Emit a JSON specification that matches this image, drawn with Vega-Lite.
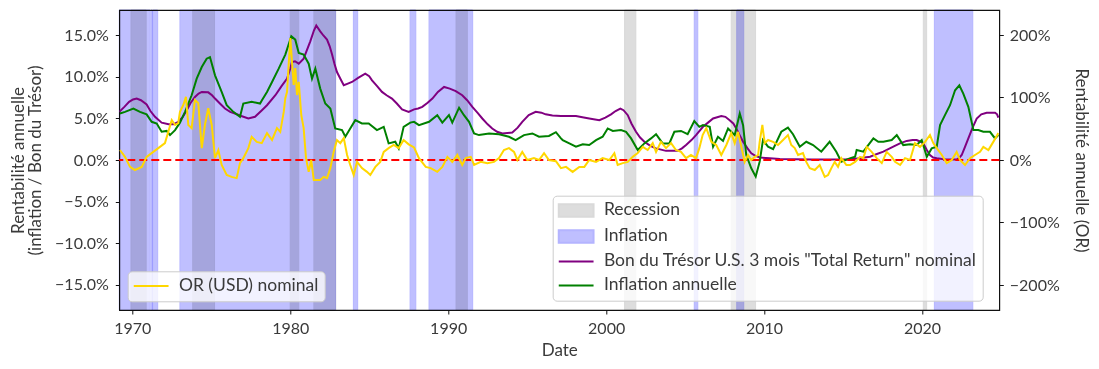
{
  "$schema": "https://vega.github.io/schema/vega-lite/v6.json",
  "width": 880,
  "height": 300,
  "autosize": {"type": "none"},
  "padding": {"left": 119.3, "top": 10, "right": 99.7, "bottom": 59},
  "background": "white",
  "config": {
    "view": {"stroke": "#111111", "strokeWidth": 1.2},
    "axis": {
      "labelFont": "Lato", "labelFontSize": 16, "labelColor": "#3a3a3a",
      "titleFont": "Lato", "titleFontSize": 17, "titleColor": "#3a3a3a", "titleFontWeight": "normal",
      "tickColor": "#111111", "tickSize": 4, "tickWidth": 1, "domain": false, "grid": false, "labelPadding": 6
    },
    "legend": {
      "labelFont": "Lato", "labelFontSize": 17.5, "labelColor": "#3a3a3a", "labelLimit": 700,
      "padding": 6, "cornerRadius": 4, "fillColor": "rgba(255,255,255,0.8)", "strokeColor": "#cccccc",
      "rowPadding": 5, "symbolOpacity": 1
    }
  },
  "datasets": {
    "recessions": [
      {"debut": 1969.92, "fin": 1970.88}, {"debut": 1973.83, "fin": 1975.21}, {"debut": 1980.0, "fin": 1980.54},
      {"debut": 1981.5, "fin": 1982.88}, {"debut": 1990.5, "fin": 1991.21}, {"debut": 2001.17, "fin": 2001.88},
      {"debut": 2007.92, "fin": 2009.46}, {"debut": 2020.08, "fin": 2020.29}
    ],
    "inflations": [
      {"debut": 1969.18, "fin": 1971.12}, {"debut": 1971.19, "fin": 1971.26}, {"debut": 1971.3, "fin": 1971.61},
      {"debut": 1973.02, "fin": 1982.87}, {"debut": 1984.0, "fin": 1984.27}, {"debut": 1987.59, "fin": 1987.95},
      {"debut": 1988.79, "fin": 1991.55}, {"debut": 2005.58, "fin": 2005.8}, {"debut": 2008.27, "fin": 2008.71},
      {"debut": 2020.78, "fin": 2023.21}
    ],
    "tbill": [
      {"annee":1969.18,"v":5.8},{"annee":1969.5,"v":6.4},{"annee":1969.8,"v":7.0},{"annee":1970.05,"v":7.3},{"annee":1970.28,"v":7.4},
      {"annee":1970.55,"v":7.2},{"annee":1970.91,"v":6.7},{"annee":1971.15,"v":5.9},{"annee":1971.44,"v":5.2},{"annee":1971.86,"v":4.5},
      {"annee":1972.3,"v":4.3},{"annee":1972.6,"v":4.3},{"annee":1972.91,"v":4.6},{"annee":1973.2,"v":5.2},{"annee":1973.45,"v":6.0},
      {"annee":1973.7,"v":6.9},{"annee":1973.97,"v":7.6},{"annee":1974.2,"v":8.0},{"annee":1974.4,"v":8.2},{"annee":1974.81,"v":8.15},
      {"annee":1975.05,"v":7.8},{"annee":1975.24,"v":7.4},{"annee":1975.55,"v":6.8},{"annee":1975.87,"v":6.2},{"annee":1976.2,"v":5.8},
      {"annee":1976.5,"v":5.6},{"annee":1976.9,"v":5.3},{"annee":1977.35,"v":5.0},{"annee":1977.77,"v":5.2},{"annee":1978.21,"v":6.0},
      {"annee":1978.53,"v":6.6},{"annee":1979.06,"v":7.8},{"annee":1979.45,"v":8.9},{"annee":1979.8,"v":9.8},{"annee":1980.0,"v":11.0},
      {"annee":1980.11,"v":11.8},{"annee":1980.3,"v":11.9},{"annee":1980.54,"v":11.6},{"annee":1980.85,"v":12.2},{"annee":1981.05,"v":13.2},
      {"annee":1981.27,"v":14.3},{"annee":1981.5,"v":15.6},{"annee":1981.65,"v":16.2},{"annee":1981.9,"v":15.5},{"annee":1982.1,"v":15.0},
      {"annee":1982.33,"v":14.5},{"annee":1982.5,"v":13.7},{"annee":1982.65,"v":12.7},{"annee":1982.8,"v":11.6},{"annee":1982.96,"v":10.6},
      {"annee":1983.2,"v":9.7},{"annee":1983.39,"v":9.0},{"annee":1983.65,"v":9.2},{"annee":1983.91,"v":9.4},{"annee":1984.3,"v":9.9},
      {"annee":1984.75,"v":10.4},{"annee":1985.0,"v":10.1},{"annee":1985.18,"v":9.6},{"annee":1985.5,"v":8.9},{"annee":1985.81,"v":8.2},
      {"annee":1986.1,"v":7.8},{"annee":1986.44,"v":7.4},{"annee":1986.75,"v":6.8},{"annee":1987.08,"v":6.1},{"annee":1987.5,"v":5.8},
      {"annee":1987.84,"v":6.1},{"annee":1988.1,"v":6.2},{"annee":1988.36,"v":6.4},{"annee":1988.7,"v":6.9},{"annee":1989.0,"v":7.4},
      {"annee":1989.35,"v":8.2},{"annee":1989.74,"v":8.8},{"annee":1990.1,"v":8.6},{"annee":1990.48,"v":8.3},{"annee":1990.89,"v":7.8},
      {"annee":1991.2,"v":7.2},{"annee":1991.53,"v":6.4},{"annee":1991.85,"v":5.7},{"annee":1992.16,"v":5.0},{"annee":1992.5,"v":4.3},
      {"annee":1992.79,"v":3.8},{"annee":1993.1,"v":3.4},{"annee":1993.43,"v":3.2},{"annee":1994.06,"v":3.3},{"annee":1994.4,"v":3.9},
      {"annee":1994.69,"v":4.6},{"annee":1995.1,"v":5.4},{"annee":1995.54,"v":5.8},{"annee":1995.9,"v":5.7},{"annee":1996.17,"v":5.5},
      {"annee":1996.6,"v":5.35},{"annee":1997.14,"v":5.3},{"annee":1998.09,"v":5.3},{"annee":1998.5,"v":5.15},{"annee":1998.93,"v":5.0},
      {"annee":1999.57,"v":4.8},{"annee":1999.95,"v":5.1},{"annee":2000.31,"v":5.5},{"annee":2000.6,"v":5.9},{"annee":2000.9,"v":6.2},
      {"annee":2001.1,"v":6.0},{"annee":2001.37,"v":5.4},{"annee":2001.6,"v":4.4},{"annee":2001.89,"v":3.4},{"annee":2002.15,"v":2.7},
      {"annee":2002.42,"v":2.2},{"annee":2002.8,"v":1.7},{"annee":2003.16,"v":1.4},{"annee":2003.79,"v":1.1},{"annee":2004.53,"v":1.1},
      {"annee":2004.8,"v":1.4},{"annee":2005.06,"v":1.8},{"annee":2005.4,"v":2.4},{"annee":2005.69,"v":3.0},{"annee":2006.13,"v":4.0},
      {"annee":2006.45,"v":4.5},{"annee":2006.77,"v":5.0},{"annee":2007.29,"v":5.3},{"annee":2007.55,"v":5.2},{"annee":2007.82,"v":4.8},
      {"annee":2008.05,"v":4.4},{"annee":2008.24,"v":3.8},{"annee":2008.45,"v":3.0},{"annee":2008.67,"v":2.2},{"annee":2008.95,"v":1.4},
      {"annee":2009.19,"v":0.8},{"annee":2009.45,"v":0.5},{"annee":2009.72,"v":0.3},{"annee":2010.36,"v":0.2},{"annee":2011.0,"v":0.12},
      {"annee":2012.0,"v":0.08},{"annee":2013.0,"v":0.06},{"annee":2014.0,"v":0.05},{"annee":2015.0,"v":0.05},{"annee":2015.5,"v":0.1},
      {"annee":2016.0,"v":0.2},{"annee":2016.71,"v":0.4},{"annee":2017.1,"v":0.7},{"annee":2017.55,"v":1.0},{"annee":2018.18,"v":1.6},
      {"annee":2018.6,"v":2.0},{"annee":2019.03,"v":2.3},{"annee":2019.4,"v":2.4},{"annee":2019.66,"v":2.4},{"annee":2019.9,"v":2.2},
      {"annee":2020.08,"v":2.0},{"annee":2020.3,"v":1.2},{"annee":2020.5,"v":0.6},{"annee":2020.7,"v":0.3},{"annee":2020.93,"v":0.2},
      {"annee":2021.5,"v":0.05},{"annee":2022.19,"v":0.05},{"annee":2022.35,"v":0.25},{"annee":2022.51,"v":0.6},{"annee":2022.7,"v":1.5},
      {"annee":2022.93,"v":2.6},{"annee":2023.2,"v":3.9},{"annee":2023.46,"v":5.0},{"annee":2023.75,"v":5.5},{"annee":2024.09,"v":5.7},
      {"annee":2024.62,"v":5.7},{"annee":2024.75,"v":5.5},{"annee":2024.83,"v":5.1}
    ],
    "inflation": [
      {"annee":1969.22,"v":5.6},{"annee":1969.54,"v":5.8},{"annee":1970.07,"v":6.2},{"annee":1970.49,"v":5.8},{"annee":1970.91,"v":5.5},
      {"annee":1971.23,"v":4.6},{"annee":1971.55,"v":4.4},{"annee":1971.86,"v":3.4},{"annee":1972.18,"v":3.5},{"annee":1972.39,"v":3.0},
      {"annee":1972.71,"v":3.6},{"annee":1973.02,"v":4.5},{"annee":1973.34,"v":5.8},{"annee":1973.76,"v":7.8},{"annee":1974.08,"v":9.8},
      {"annee":1974.4,"v":11.2},{"annee":1974.71,"v":12.2},{"annee":1974.92,"v":12.4},{"annee":1975.24,"v":10.2},{"annee":1975.66,"v":8.2},
      {"annee":1975.98,"v":6.6},{"annee":1976.4,"v":5.8},{"annee":1976.82,"v":5.2},{"annee":1977.03,"v":6.8},{"annee":1977.56,"v":7.0},
      {"annee":1978.09,"v":6.8},{"annee":1978.21,"v":7.2},{"annee":1978.53,"v":8.2},{"annee":1978.85,"v":9.4},{"annee":1979.27,"v":11.0},
      {"annee":1979.69,"v":12.7},{"annee":1980.07,"v":14.9},{"annee":1980.32,"v":14.5},{"annee":1980.54,"v":12.9},{"annee":1980.85,"v":12.7},
      {"annee":1981.17,"v":11.6},{"annee":1981.38,"v":9.8},{"annee":1981.59,"v":11.0},{"annee":1981.9,"v":8.6},{"annee":1982.22,"v":6.8},
      {"annee":1982.54,"v":6.2},{"annee":1982.85,"v":3.8},{"annee":1983.28,"v":3.6},{"annee":1983.49,"v":2.8},{"annee":1983.8,"v":3.8},
      {"annee":1984.12,"v":4.8},{"annee":1984.54,"v":4.4},{"annee":1984.97,"v":4.4},{"annee":1985.49,"v":3.6},{"annee":1985.92,"v":4.0},
      {"annee":1986.23,"v":2.0},{"annee":1986.65,"v":2.2},{"annee":1986.87,"v":1.4},{"annee":1987.18,"v":4.0},{"annee":1987.6,"v":4.5},
      {"annee":1987.84,"v":4.6},{"annee":1988.15,"v":4.2},{"annee":1988.79,"v":4.6},{"annee":1989.31,"v":5.4},{"annee":1989.63,"v":4.5},
      {"annee":1990.05,"v":5.4},{"annee":1990.26,"v":4.5},{"annee":1990.69,"v":6.3},{"annee":1991.0,"v":5.4},{"annee":1991.32,"v":4.6},
      {"annee":1991.64,"v":3.2},{"annee":1991.95,"v":3.0},{"annee":1992.59,"v":3.2},{"annee":1993.22,"v":3.1},{"annee":1993.85,"v":2.8},
      {"annee":1994.27,"v":2.4},{"annee":1994.8,"v":3.0},{"annee":1995.33,"v":3.2},{"annee":1995.75,"v":2.8},{"annee":1996.38,"v":2.9},
      {"annee":1996.82,"v":3.35},{"annee":1997.14,"v":2.6},{"annee":1997.25,"v":2.4},{"annee":1997.67,"v":2.0},{"annee":1998.09,"v":1.6},
      {"annee":1998.52,"v":1.9},{"annee":1998.93,"v":1.8},{"annee":1999.36,"v":2.4},{"annee":1999.78,"v":2.8},{"annee":2000.1,"v":3.8},
      {"annee":2000.42,"v":3.5},{"annee":2000.94,"v":3.6},{"annee":2001.26,"v":3.4},{"annee":2001.58,"v":2.6},{"annee":2002.0,"v":1.2},
      {"annee":2002.42,"v":2.0},{"annee":2002.84,"v":2.6},{"annee":2003.16,"v":3.1},{"annee":2003.58,"v":2.0},{"annee":2004.0,"v":2.0},
      {"annee":2004.32,"v":3.4},{"annee":2004.74,"v":3.5},{"annee":2005.16,"v":3.1},{"annee":2005.58,"v":4.7},{"annee":2005.9,"v":4.0},
      {"annee":2006.13,"v":4.2},{"annee":2006.56,"v":4.0},{"annee":2006.77,"v":1.6},{"annee":2007.08,"v":2.8},{"annee":2007.4,"v":2.3},
      {"annee":2007.72,"v":3.8},{"annee":2008.14,"v":3.0},{"annee":2008.46,"v":5.6},{"annee":2008.67,"v":4.2},{"annee":2008.87,"v":0.6},
      {"annee":2009.19,"v":-1.0},{"annee":2009.47,"v":-2.0},{"annee":2009.72,"v":-0.2},{"annee":2009.93,"v":2.4},{"annee":2010.25,"v":1.6},
      {"annee":2010.57,"v":1.3},{"annee":2011.09,"v":3.4},{"annee":2011.51,"v":3.9},{"annee":2011.83,"v":3.1},{"annee":2012.26,"v":1.6},
      {"annee":2012.67,"v":2.2},{"annee":2013.1,"v":1.8},{"annee":2013.62,"v":1.0},{"annee":2014.15,"v":2.2},{"annee":2014.57,"v":1.0},
      {"annee":2014.89,"v":-0.2},{"annee":2015.42,"v":0.2},{"annee":2015.76,"v":0.4},{"annee":2015.86,"v":1.2},{"annee":2016.28,"v":1.0},
      {"annee":2016.92,"v":2.6},{"annee":2017.23,"v":2.2},{"annee":2017.55,"v":2.2},{"annee":2018.08,"v":2.4},{"annee":2018.4,"v":3.0},
      {"annee":2018.81,"v":1.8},{"annee":2019.24,"v":1.9},{"annee":2019.66,"v":1.8},{"annee":2019.98,"v":2.4},{"annee":2020.3,"v":0.4},
      {"annee":2020.61,"v":1.4},{"annee":2020.93,"v":1.6},{"annee":2021.14,"v":4.2},{"annee":2021.45,"v":5.4},{"annee":2021.77,"v":6.6},
      {"annee":2022.09,"v":8.4},{"annee":2022.36,"v":9.0},{"annee":2022.61,"v":8.0},{"annee":2022.93,"v":6.4},{"annee":2023.25,"v":3.6},
      {"annee":2023.56,"v":3.6},{"annee":2023.88,"v":3.4},{"annee":2024.3,"v":3.4},{"annee":2024.62,"v":2.6},{"annee":2024.83,"v":3.0}
    ],
    "or": [
      {"annee":1969.22,"v":16},{"annee":1969.54,"v":5},{"annee":1969.86,"v":-11},{"annee":1970.17,"v":-16},{"annee":1970.6,"v":-11},
      {"annee":1970.91,"v":5},{"annee":1971.33,"v":13},{"annee":1971.65,"v":19},{"annee":1972.07,"v":27},{"annee":1972.28,"v":45},
      {"annee":1972.5,"v":64},{"annee":1972.71,"v":56},{"annee":1972.91,"v":59},{"annee":1973.02,"v":77},{"annee":1973.23,"v":88},
      {"annee":1973.4,"v":101},{"annee":1973.55,"v":56},{"annee":1973.76,"v":51},{"annee":1973.97,"v":96},{"annee":1974.18,"v":91},
      {"annee":1974.4,"v":19},{"annee":1974.6,"v":56},{"annee":1974.81,"v":83},{"annee":1975.03,"v":56},{"annee":1975.24,"v":3},
      {"annee":1975.45,"v":16},{"annee":1975.66,"v":-8},{"annee":1975.98,"v":-24},{"annee":1976.29,"v":-27},{"annee":1976.61,"v":-29},
      {"annee":1976.82,"v":-5},{"annee":1977.03,"v":3},{"annee":1977.35,"v":19},{"annee":1977.56,"v":37},{"annee":1977.88,"v":29},
      {"annee":1978.2,"v":27},{"annee":1978.53,"v":43},{"annee":1978.85,"v":32},{"annee":1979.16,"v":51},{"annee":1979.37,"v":45},
      {"annee":1979.59,"v":77},{"annee":1979.69,"v":99},{"annee":1979.8,"v":109},{"annee":1979.9,"v":152},{"annee":1980.01,"v":195},
      {"annee":1980.11,"v":157},{"annee":1980.22,"v":120},{"annee":1980.32,"v":147},{"annee":1980.43,"v":104},{"annee":1980.54,"v":125},
      {"annee":1980.7,"v":72},{"annee":1980.85,"v":51},{"annee":1981.0,"v":3},{"annee":1981.17,"v":-19},{"annee":1981.33,"v":0},
      {"annee":1981.49,"v":-32},{"annee":1981.9,"v":-32},{"annee":1982.12,"v":-27},{"annee":1982.33,"v":-29},{"annee":1982.54,"v":-13},
      {"annee":1982.75,"v":13},{"annee":1982.96,"v":32},{"annee":1983.17,"v":27},{"annee":1983.39,"v":35},{"annee":1983.6,"v":8},
      {"annee":1983.8,"v":-8},{"annee":1984.02,"v":-24},{"annee":1984.23,"v":-3},{"annee":1984.54,"v":-13},{"annee":1984.86,"v":-19},
      {"annee":1985.07,"v":-24},{"annee":1985.39,"v":-11},{"annee":1985.7,"v":-3},{"annee":1985.92,"v":13},{"annee":1986.23,"v":19},
      {"annee":1986.55,"v":24},{"annee":1986.87,"v":19},{"annee":1987.18,"v":32},{"annee":1987.5,"v":25},{"annee":1987.84,"v":20},
      {"annee":1988.15,"v":3},{"annee":1988.58,"v":-11},{"annee":1988.89,"v":-13},{"annee":1989.31,"v":-19},{"annee":1989.63,"v":-11},
      {"annee":1989.95,"v":5},{"annee":1990.26,"v":-3},{"annee":1990.58,"v":8},{"annee":1990.89,"v":-8},{"annee":1991.11,"v":3},
      {"annee":1991.43,"v":5},{"annee":1991.64,"v":-8},{"annee":1992.06,"v":-3},{"annee":1992.48,"v":-5},{"annee":1992.9,"v":-3},
      {"annee":1993.22,"v":3},{"annee":1993.53,"v":16},{"annee":1993.85,"v":19},{"annee":1994.17,"v":13},{"annee":1994.38,"v":0},
      {"annee":1994.69,"v":13},{"annee":1995.01,"v":0},{"annee":1995.43,"v":3},{"annee":1995.75,"v":0},{"annee":1996.07,"v":11},
      {"annee":1996.38,"v":0},{"annee":1996.82,"v":-2},{"annee":1997.14,"v":-13},{"annee":1997.46,"v":-11},{"annee":1997.88,"v":-19},
      {"annee":1998.3,"v":-11},{"annee":1998.62,"v":-11},{"annee":1998.93,"v":0},{"annee":1999.36,"v":-3},{"annee":1999.78,"v":3},
      {"annee":2000.2,"v":0},{"annee":2000.52,"v":11},{"annee":2000.73,"v":-8},{"annee":2001.05,"v":-5},{"annee":2001.37,"v":-3},
      {"annee":2001.68,"v":5},{"annee":2002.0,"v":11},{"annee":2002.32,"v":21},{"annee":2002.63,"v":16},{"annee":2002.95,"v":27},
      {"annee":2003.16,"v":13},{"annee":2003.47,"v":29},{"annee":2003.79,"v":19},{"annee":2004.11,"v":27},{"annee":2004.42,"v":16},
      {"annee":2004.74,"v":13},{"annee":2005.06,"v":3},{"annee":2005.37,"v":8},{"annee":2005.69,"v":3},{"annee":2005.9,"v":19},
      {"annee":2006.11,"v":40},{"annee":2006.34,"v":51},{"annee":2006.66,"v":29},{"annee":2006.97,"v":24},{"annee":2007.29,"v":8},
      {"annee":2007.61,"v":24},{"annee":2007.92,"v":43},{"annee":2008.14,"v":27},{"annee":2008.35,"v":45},{"annee":2008.56,"v":21},
      {"annee":2008.77,"v":-3},{"annee":2008.98,"v":8},{"annee":2009.19,"v":0},{"annee":2009.41,"v":5},{"annee":2009.62,"v":8},
      {"annee":2009.72,"v":29},{"annee":2009.89,"v":56},{"annee":2010.04,"v":27},{"annee":2010.25,"v":32},{"annee":2010.57,"v":29},
      {"annee":2010.88,"v":24},{"annee":2011.2,"v":32},{"annee":2011.51,"v":40},{"annee":2011.72,"v":24},{"annee":2011.94,"v":19},
      {"annee":2012.15,"v":8},{"annee":2012.46,"v":11},{"annee":2012.67,"v":-3},{"annee":2012.89,"v":-13},{"annee":2013.21,"v":-16},
      {"annee":2013.52,"v":-8},{"annee":2013.84,"v":-27},{"annee":2014.05,"v":-24},{"annee":2014.26,"v":-13},{"annee":2014.47,"v":-3},
      {"annee":2014.68,"v":-11},{"annee":2014.89,"v":3},{"annee":2015.21,"v":-8},{"annee":2015.44,"v":-8},{"annee":2015.76,"v":-3},
      {"annee":2016.07,"v":5},{"annee":2016.28,"v":3},{"annee":2016.5,"v":21},{"annee":2016.81,"v":13},{"annee":2017.13,"v":3},
      {"annee":2017.45,"v":-5},{"annee":2017.76,"v":13},{"annee":2018.08,"v":5},{"annee":2018.29,"v":-3},{"annee":2018.61,"v":-8},
      {"annee":2018.92,"v":3},{"annee":2019.24,"v":0},{"annee":2019.55,"v":27},{"annee":2019.87,"v":21},{"annee":2020.19,"v":29},
      {"annee":2020.5,"v":40},{"annee":2020.71,"v":27},{"annee":2020.93,"v":19},{"annee":2021.25,"v":8},{"annee":2021.56,"v":-5},
      {"annee":2021.88,"v":0},{"annee":2022.19,"v":13},{"annee":2022.4,"v":0},{"annee":2022.72,"v":-8},{"annee":2023.04,"v":3},
      {"annee":2023.35,"v":8},{"annee":2023.67,"v":13},{"annee":2023.88,"v":21},{"annee":2024.2,"v":16},{"annee":2024.51,"v":29},
      {"annee":2024.83,"v":43}
    ]
  },
  "layer": [
    {
      "layer": [
        {
          "data": {"name": "recessions"},
          "mark": {"type": "rect", "strokeWidth": 1, "blend": "multiply"},
          "encoding": {
            "x": {"field": "debut", "type": "quantitative", "title": "Date",
                  "scale": {"domain": [1969.18, 2024.89], "nice": false, "zero": false},
                  "axis": {"values": [1970, 1980, 1990, 2000, 2010, 2020], "format": "d", "labelPadding": 6,
                           "titleBaseline": "alphabetic", "titleY": 45, "titleX": 440, "titleAlign": "center"}},
            "x2": {"field": "fin"},
            "fill": {"datum": "Recession", "type": "nominal", "title": null,
              "scale": {"domain": ["Recession", "Inflation", "Bon du Trésor U.S. 3 mois \"Total Return\" nominal", "Inflation annuelle"],
                        "range": ["#dddddd", "#bfbfff", "transparent", "transparent"]},
              "legend": {"orient": "none", "legendX": 433.4, "legendY": 185.7, "title": null, "direction": "vertical",
                         "symbolSize": 144, "symbolStrokeWidth": 2, "symbolOpacity": 1,
                         "symbolOffset": 8.7, "labelOffset": 19}},
            "stroke": {"datum": "Recession", "type": "nominal", "title": null,
              "scale": {"domain": ["Recession", "Inflation", "Bon du Trésor U.S. 3 mois \"Total Return\" nominal", "Inflation annuelle"],
                        "range": ["#d9d9d9", "#b4b4ff", "purple", "green"]},
              "legend": {"orient": "none", "legendX": 433.4, "legendY": 185.7, "title": null, "direction": "vertical",
                         "symbolSize": 144, "symbolStrokeWidth": 2, "symbolOpacity": 1,
                         "symbolOffset": 8.7, "labelOffset": 19}}
          }
        },
        {
          "data": {"name": "inflations"},
          "mark": {"type": "rect", "strokeWidth": 1, "blend": "multiply"},
          "encoding": {
            "x": {"field": "debut", "type": "quantitative", "title": "Date", "scale": {"domain": [1969.18, 2024.89], "nice": false, "zero": false}},
            "x2": {"field": "fin"},
            "fill": {"datum": "Inflation", "type": "nominal"},
            "stroke": {"datum": "Inflation", "type": "nominal"}
          }
        },
        {
          "data": {"name": "recessions"},
          "mark": {"type": "point", "opacity": 0, "filled": false},
          "encoding": {
            "x": {"field": "debut", "type": "quantitative", "title": "Date", "scale": {"domain": [1969.18, 2024.89], "nice": false, "zero": false}},
            "shape": {"datum": "Recession", "type": "nominal", "title": null,
              "scale": {"domain": ["Recession", "Inflation", "Bon du Trésor U.S. 3 mois \"Total Return\" nominal", "Inflation annuelle"],
                        "range": ["M-2.9,-1.03H2.9V1.03H-2.9Z", "M-2.9,-1.03H2.9V1.03H-2.9Z", "M-2.9,0H2.9", "M-2.9,0H2.9"]},
              "legend": {"orient": "none", "legendX": 433.4, "legendY": 185.7, "title": null, "direction": "vertical",
                         "symbolSize": 144, "symbolStrokeWidth": 2, "symbolOpacity": 1,
                         "symbolOffset": 8.7, "labelOffset": 19}}
          }
        },
        {
          "data": {"name": "tbill"},
          "mark": {"type": "line", "strokeWidth": 2, "clip": true},
          "encoding": {
            "x": {"field": "annee", "type": "quantitative", "title": "Date", "scale": {"domain": [1969.18, 2024.89], "nice": false, "zero": false}},
            "y": {"field": "v", "type": "quantitative",
                  "title": ["Rentabilité annuelle", "(inflation / Bon du Trésor)"],
                  "scale": {"domain": [-18.07, 18.07], "nice": false, "zero": false},
                  "axis": {"values": [-15, -10, -5, 0, 5, 10, 15], "labelExpr": "format(datum.value, '.1f') + '%'",
                           "labelPadding": 7, "titleX": -96, "titleY": 150, "titleAngle": -90, "titleAlign": "center",
                           "titleBaseline": "alphabetic", "titleLineHeight": 17}},
            "stroke": {"datum": "Bon du Trésor U.S. 3 mois \"Total Return\" nominal", "type": "nominal"}
          }
        },
        {
          "data": {"name": "inflation"},
          "mark": {"type": "line", "strokeWidth": 2, "clip": true},
          "encoding": {
            "x": {"field": "annee", "type": "quantitative", "title": "Date", "scale": {"domain": [1969.18, 2024.89], "nice": false, "zero": false}},
            "y": {"field": "v", "type": "quantitative", "title": ["Rentabilité annuelle", "(inflation / Bon du Trésor)"],
                  "scale": {"domain": [-18.07, 18.07], "nice": false, "zero": false}},
            "stroke": {"datum": "Inflation annuelle", "type": "nominal"}
          }
        },
        {
          "data": {"values": [{}]},
          "mark": {"type": "rule", "color": "red", "strokeDash": [8, 4], "strokeWidth": 2},
          "encoding": {
            "y": {"datum": 0, "type": "quantitative", "scale": {"domain": [-18.07, 18.07], "nice": false, "zero": false}}
          }
        }
      ]
    },
    {
      "data": {"name": "or"},
      "mark": {"type": "line", "strokeWidth": 2, "clip": true},
      "encoding": {
        "x": {"field": "annee", "type": "quantitative", "title": "Date", "scale": {"domain": [1969.18, 2024.89], "nice": false, "zero": false}},
        "y": {"field": "v", "type": "quantitative", "title": "Rentabilité annuelle (OR)",
              "scale": {"domain": [-240, 240], "nice": false, "zero": false},
              "axis": {"orient": "right", "values": [-200, -100, 0, 100, 200], "labelExpr": "format(datum.value, 'd') + '%'",
                       "labelPadding": 6, "titleX": 75.7, "titleY": 150, "titleAngle": 90, "titleAlign": "center", "titleBaseline": "alphabetic"}},
        "color": {"datum": "OR (USD) nominal", "type": "nominal",
          "scale": {"domain": ["OR (USD) nominal"], "range": ["#ffd700"]},
          "legend": {"orient": "none", "legendX": 8.4, "legendY": 261.3, "title": null,
                     "symbolType": "M-2.9,0H2.9", "symbolSize": 144, "symbolStrokeWidth": 2,
                     "symbolOffset": 8.7, "labelOffset": 19}}
      }
    }
  ],
  "resolve": {"scale": {"y": "independent"}}
}
